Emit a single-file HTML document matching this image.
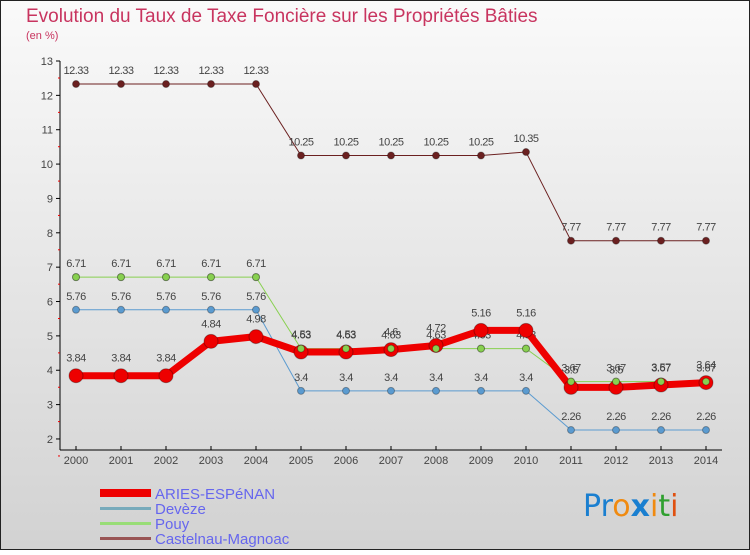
<!DOCTYPE html>
<html><head><meta charset="utf-8"><style>
body{margin:0;width:750px;height:550px;overflow:hidden;font-family:"Liberation Sans",sans-serif}
</style></head><body>
<svg width="750" height="550" xmlns="http://www.w3.org/2000/svg">
<defs><linearGradient id="bg" x1="0" y1="0" x2="0" y2="1"><stop offset="0" stop-color="#fafafa"/><stop offset="1" stop-color="#d2d2d2"/></linearGradient></defs>
<rect x="0.5" y="0.5" width="749" height="549" fill="url(#bg)" stroke="#222"/>
<text x="26" y="22" font-size="19" fill="#c8345f">Evolution du Taux de Taxe Foncière sur les Propriétés Bâties</text>
<text x="26" y="39" font-size="11" fill="#c8345f">(en %)</text>
<g id="axes"></g><g id="series"></g>
<g font-size="15" fill="#6666ee">
<rect x="100" y="489" width="51" height="8" fill="#e00"/>
<text x="155" y="499">ARIES-ESPéNAN</text>
<rect x="100" y="507" width="51" height="3" fill="#7ab"/>
<text x="155" y="514">Devèze</text>
<rect x="100" y="522" width="51" height="3" fill="#9d7"/>
<text x="155" y="529">Pouy</text>
<rect x="100" y="537" width="51" height="3" fill="#955"/>
<text x="155" y="544">Castelnau-Magnoac</text>
</g>
<text x="583" y="516" font-size="30" font-family="DejaVu Sans"><tspan fill="#1a7fd0">Pr</tspan><tspan fill="#f08a10">o</tspan><tspan fill="#1a7fd0" font-weight="bold">x</tspan><tspan fill="#f08a10">i</tspan><tspan fill="#30a030">t</tspan><tspan fill="#e05010">i</tspan></text>
</svg>
<script>
const years=[2000,2001,2002,2003,2004,2005,2006,2007,2008,2009,2010,2011,2012,2013,2014];
const yTicks=[2,3,4,5,6,7,8,9,10,11,12,13];
const aries=[3.84,3.84,3.84,4.84,4.98,4.53,4.53,4.6,4.72,5.16,5.16,3.5,3.5,3.57,3.64];
const deveze=[5.76,5.76,5.76,5.76,5.76,3.4,3.4,3.4,3.4,3.4,3.4,2.26,2.26,2.26,2.26];
const pouy=[6.71,6.71,6.71,6.71,6.71,4.63,4.63,4.63,4.63,4.63,4.63,3.67,3.67,3.67,3.67];
const castelnau=[12.33,12.33,12.33,12.33,12.33,10.25,10.25,10.25,10.25,10.25,10.35,7.77,7.77,7.77,7.77];
const NS="http://www.w3.org/2000/svg";
const X=i=>76+i*45, Y=v=>61+(13-v)*34.36;
function mk(t,a,p){const e=document.createElementNS(NS,t);for(const k in a)e.setAttribute(k,a[k]);p.appendChild(e);return e;}
const ax=document.getElementById('axes');
const yl=mk('line',{x1:60,y1:61,x2:60,y2:450,stroke:'#000'},ax);


const xl=mk('line',{x1:60,y1:450,x2:722,y2:450,stroke:'#000'},ax);


yTicks.forEach(v=>{mk('line',{x1:56,x2:60,y1:Y(v),y2:Y(v),stroke:'#000'},ax);
mk('line',{x1:58,x2:60,y1:Y(v)+17,y2:Y(v)+17,stroke:'#e00'},ax);
const t=mk('text',{x:53,y:Y(v)+4,'font-size':11,fill:'#444','text-anchor':'end'},ax);t.textContent=v;

});
years.forEach((y,i)=>{mk('line',{x1:X(i),x2:X(i),y1:446,y2:450,stroke:'#000'},ax);
const t=mk('text',{x:X(i),y:464,'font-size':11,fill:'#444','text-anchor':'middle'},ax);t.textContent=y;

});
const sg=document.getElementById('series');
function draw(vals,color,w,r,name,labelDy){
const g=mk('g',{},sg);


mk('polyline',{points:vals.map((v,i)=>X(i)+','+Y(v)).join(' '),fill:'none',stroke:color,'stroke-width':w,'stroke-linejoin':'round'},g);
vals.forEach((v,i)=>{const c=mk('circle',{cx:X(i),cy:Y(v),r:r,fill:color,stroke:'rgba(0,0,0,0.3)','stroke-width':1},g);


const t=mk('text',{x:X(i),y:Y(v)-labelDy,'font-size':11,fill:'#444','text-anchor':'middle','letter-spacing':'-0.5'},g);t.textContent=v;

});}
draw(castelnau,'#6b2020',1,3.5,'castelnau',10);
draw(deveze,'#5b9bd0',1,3.5,'deveze',10);
draw(pouy,'#88d050',1,3.5,'pouy',10);
draw(aries,'#ee0000',7,7,'aries',14);
pouy.forEach((v,i)=>mk('circle',{cx:X(i),cy:Y(v),r:3.5,fill:'#88d050',stroke:'rgba(0,0,0,0.3)'},sg));
</script>
</body></html>
